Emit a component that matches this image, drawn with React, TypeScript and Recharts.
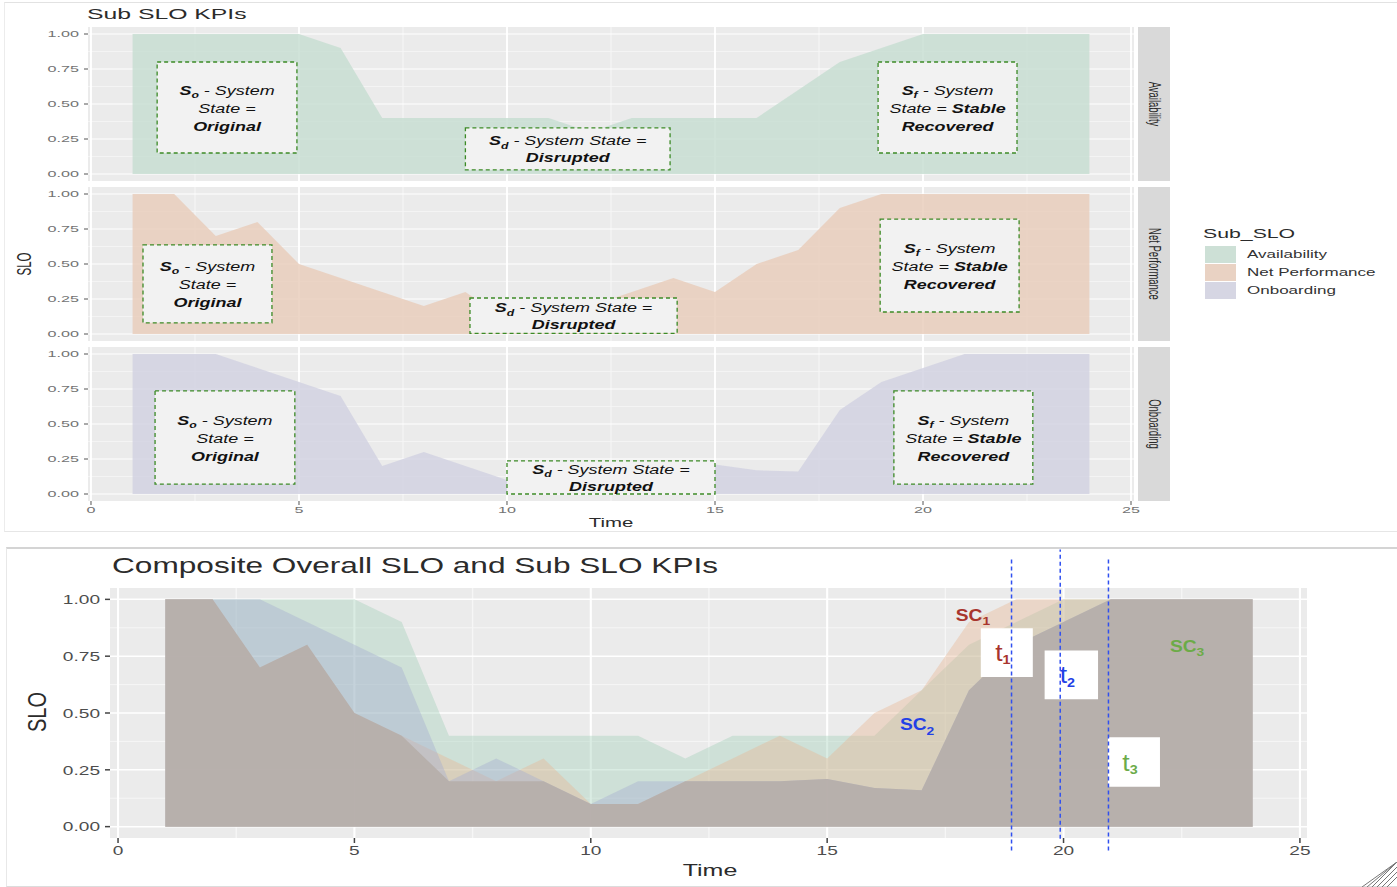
import React from 'react';
import { AreaChart, Area, XAxis, YAxis, CartesianGrid, ReferenceArea, ReferenceLine, ReferenceDot } from 'recharts';

// ---------- data ----------
const time = [1, 2, 3, 4, 5, 6, 7, 8, 9, 10, 11, 12, 13, 14, 15, 16, 17, 18, 19, 20, 21, 22, 23, 24];
const availability = [1, 1, 1, 1, 1, 0.9, 0.4, 0.4, 0.4, 0.4, 0.4, 0.3, 0.4, 0.4, 0.4, 0.4, 0.6, 0.8, 0.9, 1, 1, 1, 1, 1];
const netPerformance = [1, 1, 0.7, 0.8, 0.5, 0.4, 0.3, 0.2, 0.3, 0.1, 0.1, 0.2, 0.3, 0.4, 0.3, 0.5, 0.6, 0.9, 1, 1, 1, 1, 1, 1];
const onboarding = [1, 1, 1, 0.9, 0.8, 0.7, 0.2, 0.3, 0.2, 0.1, 0.2, 0.2, 0.2, 0.2, 0.21, 0.17, 0.16, 0.6, 0.8, 0.9, 1, 1, 1, 1];
const composite = [1, 1, 0.7, 0.8, 0.5, 0.4, 0.2, 0.2, 0.2, 0.1, 0.1, 0.2, 0.2, 0.2, 0.21, 0.17, 0.16, 0.6, 0.8, 0.9, 1, 1, 1, 1];

const seriesKeys = ['availability', 'netPerformance', 'onboarding'];
const seriesNames = ['Availability', 'Net Performance', 'Onboarding'];
const xTicks = [0, 5, 10, 15, 20, 25];
const xMinor = [2.5, 7.5, 12.5, 17.5, 22.5];
const yTicks = [0, 0.25, 0.5, 0.75, 1];
const yMinor = [0.125, 0.375, 0.625, 0.875];

const changeTimes = [18.9, 19.93, 20.95];
const changeIds = ['1', '2', '3'];

const data = time.map((t, i) => ({
  t,
  availability: availability[i],
  netPerformance: netPerformance[i],
  onboarding: onboarding[i],
  composite: composite[i],
}));

// ---------- styling ----------
const FONT = '"Liberation Sans", Arial, Helvetica, sans-serif';
const topFill = ['#c8ded2', '#e9cebc', '#d2d2e2'];
const legendFill = ['#cde0d6', '#e9d2c3', '#d6d6e3'];
const bottomFill = ['#a2cfb9', '#e8b693', '#a6acd0'];
const compositeFill = '#b5ada9';
const changeColors = ['#a8352d', '#2340e6', '#6cab48'];

const TOP_X_DOMAIN: [number, number] = [-0.072, 25.072];
const BOT_X_DOMAIN: [number, number] = [-0.17, 25.15];
const Y_DOMAIN: [number, number] = [-0.05, 1.05];

// annotation boxes [x1, x2, y1, y2] for each facet: original, disrupted, recovered
const facetBoxes = [
  [[1.59, 4.95, 0.15, 0.8], [9.0, 13.92, 0.03, 0.33], [18.92, 22.26, 0.15, 0.8]],
  [[1.25, 4.35, 0.08, 0.636], [9.11, 14.09, 0.005, 0.257], [18.97, 22.31, 0.157, 0.82]],
  [[1.54, 4.9, 0.07, 0.736], [10.0, 15.0, 0.0, 0.236], [19.3, 22.64, 0.07, 0.736]],
];
const changeBoxes = [[18.25, 19.35, 0.658, 0.873], [19.6, 20.73, 0.561, 0.775], [20.94, 22.04, 0.175, 0.393]];
const scPos = [[17.72, 0.93], [16.54, 0.447], [22.25, 0.794]];

type Seg = { t: string; b?: boolean; sub?: boolean };
const boxLines: Seg[][][] = [
  [[{ t: 'S', b: true }, { t: 'o', b: true, sub: true }, { t: ' - System' }], [{ t: 'State =' }], [{ t: 'Original', b: true }]],
  [[{ t: 'S', b: true }, { t: 'd', b: true, sub: true }, { t: ' - System State =' }], [{ t: 'Disrupted', b: true }]],
  [[{ t: 'S', b: true }, { t: 'f', b: true, sub: true }, { t: ' - System' }], [{ t: 'State = ' }, { t: 'Stable', b: true }], [{ t: 'Recovered', b: true }]],
];

// ---------- helpers ----------
function HText(props: any) {
  const { text, left, top, size, sx, color = '#333', anchor = 'left', rotate = 0, weight = 400 } = props;
  const tx = anchor === 'left' ? '0' : '-50%';
  const origin = anchor === 'left' ? 'left center' : 'center center';
  return (
    <div
      style={{
        position: 'absolute', left, top, whiteSpace: 'nowrap', fontFamily: FONT, fontSize: size, lineHeight: 1,
        color, fontWeight: weight, transformOrigin: origin,
        transform: `translate(${tx},-50%) scaleX(${sx})${rotate ? ` rotate(${rotate}deg)` : ''}`,
      }}
    >
      {text}
    </div>
  );
}

const makeYTick = (size: number, sx: number, color: string) => (p: any) => (
  <text transform={`translate(${p.x},${p.y}) scale(${sx},1)`} textAnchor="end" dominantBaseline="central"
    fontFamily={FONT} fontSize={size} fill={color}>
    {Number(p.payload.value).toFixed(2)}
  </text>
);
const makeXTick = (size: number, sx: number, color: string) => (p: any) => (
  <text transform={`translate(${p.x},${p.y}) scale(${sx},1)`} textAnchor="middle" dominantBaseline="hanging"
    fontFamily={FONT} fontSize={size} fill={color}>
    {p.payload.value}
  </text>
);

function BoxText(props: any) {
  const { viewBox, lines, fontSize = 13.5, sx = 1.33, gap = 17.5 } = props;
  if (!viewBox) return null;
  const cx = viewBox.x + viewBox.width / 2;
  const cy = viewBox.y + viewBox.height / 2;
  const n = lines.length;
  return (
    <g>
      {lines.map((line: Seg[], i: number) => {
        const y = cy + (i - (n - 1) / 2) * gap;
        let prevSub = false;
        return (
          <text key={i} transform={`translate(${cx},${y}) scale(${sx},1)`} textAnchor="middle" dominantBaseline="central"
            fontFamily={FONT} fontSize={fontSize} fontStyle="italic" fill="#111">
            {line.map((s, j) => {
              let dy: number | undefined = undefined;
              if (s.sub) dy = 5;
              else if (prevSub) dy = -5;
              prevSub = !!s.sub;
              return (
                <tspan key={j} dy={dy} fontWeight={s.b ? 700 : 400} fontSize={s.sub ? fontSize * 0.68 : fontSize}>
                  {s.t}
                </tspan>
              );
            })}
          </text>
        );
      })}
    </g>
  );
}

function SubLabel(props: any) {
  const { viewBox, main, sub, color, size, subSize, subDy, sx, anchor = 'start', bold = false, dx = 0 } = props;
  if (!viewBox) return null;
  const x = viewBox.x + (anchor === 'middle' ? viewBox.width / 2 : 0) + dx;
  const y = viewBox.y + viewBox.height / 2;
  return (
    <text transform={`translate(${x},${y}) scale(${sx},1)`} textAnchor={anchor} dominantBaseline="central"
      fontFamily={FONT} fontSize={size} fontWeight={bold ? 700 : 400} fill={color}>
      {main}
      <tspan dy={subDy} fontSize={subSize} fontWeight={700}>{sub}</tspan>
    </text>
  );
}

// ---------- facet panel ----------
function Facet(props: any) {
  const { idx, top, height, marginTop, showX } = props;
  const key = seriesKeys[idx];
  return (
    <div style={{ position: 'absolute', left: 0, top }}>
      <AreaChart width={1150} height={height} data={data} margin={{ top: marginTop, right: 16, bottom: 0, left: 0 }}>
        <CartesianGrid fill="#ebebeb" stroke="#f6f6f6" strokeWidth={0.8} vertical={false} horizontalValues={yMinor} />
        <CartesianGrid stroke="#f6f6f6" strokeWidth={1.1} horizontal={false} verticalValues={xMinor} />
        <CartesianGrid stroke="#ffffff" strokeWidth={1.2} vertical={false} horizontalValues={yTicks} />
        <CartesianGrid stroke="#ffffff" strokeWidth={1.9} horizontal={false} verticalValues={xTicks} />
        <XAxis type="number" dataKey="t" domain={TOP_X_DOMAIN} ticks={xTicks} allowDataOverflow hide={!showX}
          height={30} axisLine={false} tickSize={4} tickMargin={1} tickLine={{ stroke: '#555' }}
          tick={makeXTick(9.5, 1.7, '#737373')} interval={0} />
        <YAxis type="number" domain={Y_DOMAIN} ticks={yTicks} allowDataOverflow width={88} axisLine={false}
          tickSize={4} tickMargin={5} tickLine={{ stroke: '#555' }} tick={makeYTick(9.5, 1.7, '#737373')} interval={0} />
        <Area type="linear" dataKey={key} name={seriesNames[idx]} stroke="none" fill={topFill[idx]} fillOpacity={0.85}
          baseValue={0} isAnimationActive={false} dot={false} activeDot={false} />
        {facetBoxes[idx].map((b, j) => (
          <ReferenceArea key={j} x1={b[0]} x2={b[1]} y1={b[2]} y2={b[3]} fill="#f2f2f2" fillOpacity={1}
            stroke="#3c8a26" strokeDasharray="4 3" strokeWidth={1.3} ifOverflow="visible"
            label={<BoxText lines={boxLines[j]} gap={j === 1 ? 17 : 18} />} />
        ))}
      </AreaChart>
    </div>
  );
}

const facetTops = [0, 181, 341];
const facetHeights = [181, 160, 190];
const facetMarginTops = [27, 6, 6];
const stripTops = [27, 187, 347];

export default function App() {
  return (
    <div style={{ position: 'absolute', left: 0, top: 0, width: 1397, height: 887, background: '#ffffff', overflow: 'hidden' }}>
      {/* frames */}
      <div style={{ position: 'absolute', left: 4, top: 2, width: 1393, height: 528, borderTop: '1px solid #e2e2e2', borderLeft: '1px solid #ececec', borderBottom: '1px solid #e6e6e6' }} />
      <div style={{ position: 'absolute', left: 6, top: 547, width: 1391, height: 337, borderTop: '2px solid #d4d4d4', borderLeft: '1px solid #e8e8e8', borderBottom: '1px solid #dcdcdc' }} />

      {/* top: facetted sub SLO KPIs */}
      {[0, 1, 2].map((i) => (
        <Facet key={i} idx={i} top={facetTops[i]} height={facetHeights[i]} marginTop={facetMarginTops[i]} showX={i === 2} />
      ))}
      <HText text="Sub SLO KPIs" left={87} top={13} size={15} sx={1.65} color="#2b2b2b" />
      {[0, 1, 2].map((i) => (
        <div key={i} style={{ position: 'absolute', left: 1138, top: stripTops[i], width: 32, height: 154, background: '#d9d9d9' }}>
          <HText text={seriesNames[i]} left={16} top={77} size={9.5} sx={1.65} color="#2a2a2a" anchor="center" rotate={90} />
        </div>
      ))}
      <HText text="SLO" left={25} top={264} size={11.5} sx={1.7} color="#2b2b2b" anchor="center" rotate={-90} />
      <HText text="Time" left={611} top={523} size={12} sx={1.7} color="#2b2b2b" anchor="center" />

      {/* legend */}
      <HText text="Sub_SLO" left={1203} top={234} size={12.5} sx={1.7} color="#2b2b2b" />
      {[0, 1, 2].map((i) => (
        <React.Fragment key={i}>
          <div style={{ position: 'absolute', left: 1205, top: 246 + i * 18, width: 31, height: 17, background: legendFill[i] }} />
          <HText text={seriesNames[i]} left={1247} top={254.5 + i * 18} size={10} sx={1.7} color="#333" />
        </React.Fragment>
      ))}

      {/* bottom: composite */}
      <div style={{ position: 'absolute', left: 0, top: 540 }}>
        <AreaChart width={1330} height={338} data={data} margin={{ top: 48, right: 23, bottom: 0, left: 0 }}>
          <CartesianGrid fill="#ebebeb" stroke="#f6f6f6" strokeWidth={1} vertical={false} horizontalValues={yMinor} />
          <CartesianGrid stroke="#f6f6f6" strokeWidth={1.3} horizontal={false} verticalValues={xMinor} />
          <CartesianGrid stroke="#ffffff" strokeWidth={1.5} vertical={false} horizontalValues={yTicks} />
          <CartesianGrid stroke="#ffffff" strokeWidth={2.1} horizontal={false} verticalValues={xTicks} />
          <XAxis type="number" dataKey="t" domain={BOT_X_DOMAIN} ticks={xTicks} allowDataOverflow height={40}
            axisLine={false} tickSize={5} tickMargin={2} tickLine={{ stroke: '#444', strokeWidth: 1.5 }}
            tick={makeXTick(13, 1.47, '#4d4d4d')} interval={0} />
          <YAxis type="number" domain={Y_DOMAIN} ticks={yTicks} allowDataOverflow width={110} axisLine={false}
            tickSize={5} tickMargin={5} tickLine={{ stroke: '#444', strokeWidth: 1.5 }}
            tick={makeYTick(13, 1.47, '#4d4d4d')} interval={0} />
          {seriesKeys.map((k, i) => (
            <Area key={k} type="linear" dataKey={k} name={seriesNames[i]} stroke="none" fill={bottomFill[i]} fillOpacity={0.4}
              baseValue={0} isAnimationActive={false} dot={false} activeDot={false} />
          ))}
          <Area type="linear" dataKey="composite" name="Composite" stroke="none" fill={compositeFill} fillOpacity={0.88}
            baseValue={0} isAnimationActive={false} dot={false} activeDot={false} />
          {changeBoxes.map((b, i) => (
            <ReferenceArea key={`b${i}`} x1={b[0]} x2={b[1]} y1={b[2]} y2={b[3]} fill="#ffffff" fillOpacity={1}
              stroke="none" ifOverflow="visible"
              label={<SubLabel main="t" sub={changeIds[i]} color={changeColors[i]} size={24} subSize={13}
                subDy={7} sx={1.1} anchor="middle" dx={-4} />} />
          ))}
          {changeTimes.map((v, i) => (
            <ReferenceLine key={`l${i}`} segment={[{ x: v, y: i === 1 ? -0.053 : -0.105 }, { x: v, y: i === 1 ? 1.219 : 1.175 }]}
              stroke="#3050f0" strokeDasharray="4 3" strokeWidth={1.5} ifOverflow="visible" />
          ))}
          {scPos.map((p, i) => (
            <ReferenceDot key={`d${i}`} x={p[0]} y={p[1]} r={0} fill="none" stroke="none" ifOverflow="visible"
              label={<SubLabel main="SC" sub={changeIds[i]} color={changeColors[i]} size={16} subSize={11.5}
                subDy={6} sx={1.2} anchor="start" bold />} />
          ))}
        </AreaChart>
      </div>
      <HText text="Composite Overall SLO and Sub SLO KPIs" left={112} top={567} size={21.5} sx={1.47} color="#2b2b2b" />
      <HText text="SLO" left={37} top={712} size={20} sx={1.33} color="#2b2b2b" anchor="center" rotate={-90} />
      <HText text="Time" left={710} top={870} size={17} sx={1.47} color="#2b2b2b" anchor="center" />

      {/* window resize grip */}
      <svg style={{ position: 'absolute', left: 1362, top: 862 }} width={35} height={25}>
        {[0, 5, 10, 15, 20, 25].map((o) => (
          <line key={o} x1={35 - o - 10} y1={25} x2={35} y2={25 - o - 10 < 0 ? 0 : 25 - o - 10} stroke="#777" strokeWidth={1} />
        ))}
      </svg>
    </div>
  );
}
